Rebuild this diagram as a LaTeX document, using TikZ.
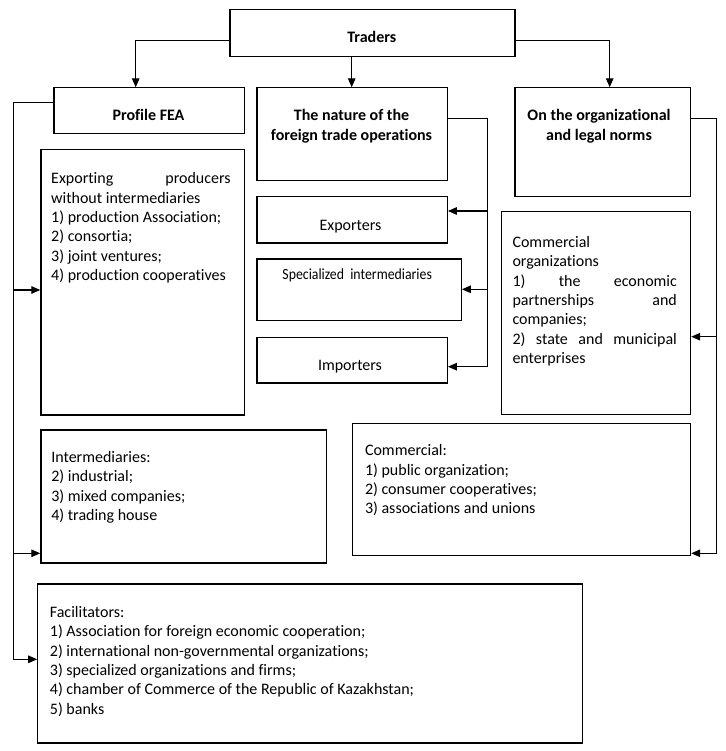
\documentclass[tikz,border=0pt]{standalone}
\usepackage{graphicx}
\usepackage{fontspec}
\setmainfont{Carlito}[Ligatures=NoCommon]
\usetikzlibrary{arrows.meta}
\begin{document}
\begin{tikzpicture}[x=1pt,y=-1pt,
  box/.style={draw, line width=1.2pt, inner sep=0pt, anchor=north west},
  txt/.style={inner sep=0pt, anchor=base west, font=\fontsize{16}{19.4}\selectfont},
  ttl/.style={inner sep=0pt, anchor=base, font=\fontsize{16}{19.5}\selectfont\bfseries},
  lbl/.style={inner sep=0pt, anchor=base, font=\fontsize{16}{19.5}\selectfont},
  arr/.style={line width=1.2pt, -{Triangle[length=9pt,width=7.5pt]}}]
\fill[white] (0,0) rectangle (725,751);
\useasboundingbox (0,0) rectangle (725,751);

% boxes
\node[box, minimum width=285pt, minimum height=46.7pt] (traders) at (229.3,9.3) {};
\node[box, minimum width=190.4pt, minimum height=46pt] (profile) at (53.3,87.3) {};
\node[box, minimum width=190.4pt, minimum height=93pt] (nature) at (256.3,87.3) {};
\node[box, minimum width=175.7pt, minimum height=108.7pt] (norms) at (514.3,87.3) {};
\node[box, minimum width=203.4pt, minimum height=265pt] (exporting) at (40.3,149.3) {};
\node[box, minimum width=190.4pt, minimum height=46.3pt] (exporters) at (256.3,196) {};
\node[box, minimum width=204.4pt, minimum height=61.7pt] (special) at (256.3,258.3) {};
\node[box, minimum width=190.4pt, minimum height=45.6pt] (importers) at (256.3,336.7) {};
\node[box, minimum width=189.3pt, minimum height=203pt] (corgs) at (500.7,211) {};
\node[box, minimum width=285.9pt, minimum height=133pt] (interm) at (40.3,429.3) {};
\node[box, minimum width=338.3pt, minimum height=132.5pt] (commercial) at (351.7,422.5) {};
\node[box, minimum width=545pt, minimum height=159pt] (facil) at (37.2,583.3) {};

% texts
\node[ttl] (traders-t) at (371.8,42.7) {Traders};
\node[ttl] (profile-t) at (148.5,120.3) {Profile FEA};
\node[ttl] (nature-t) at (351.5,120.7) {\parbox[t]{200pt}{\centering The nature of the\\ foreign trade operations}};
\node[ttl] (norms-t) at (599,120.7) {\parbox[t]{200pt}{\centering On the organizational\\ and legal norms}};
\node[lbl] (exporters-t) at (350.5,230) {Exporters};
\node[lbl, font=\fontsize{15.5}{18}\selectfont] (special-t) at (357.2,279.3) {\scalebox{0.89}[1]{Specialized\ \ intermediaries}};
\node[lbl] (importers-t) at (350,370.7) {Importers};

\node[txt] (exporting-t) at (51,183.7) {\parbox[t]{179.5pt}{\makebox[\linewidth][s]{Exporting producers}\\ without intermediaries\\ 1) production Association;\\ 2) consortia;\\ 3) joint ventures;\\ 4) production cooperatives}};

\node[txt] (corgs-t) at (512.3,247.3) {\parbox[t]{164.4pt}{Commercial\\ organizations\\ \makebox[\linewidth][s]{1) the economic}\\ \makebox[\linewidth][s]{partnerships and}\\ companies;\\ \makebox[\linewidth][s]{2) state and municipal}\\ enterprises}};

\node[txt] (commercial-t) at (364.8,455.7) {\parbox[t]{300pt}{Commercial:\\ 1) public organization;\\ 2) consumer cooperatives;\\ 3) associations and unions}};

\node[txt] (interm-t) at (51.1,462.3) {\parbox[t]{260pt}{Intermediaries:\\ 2) industrial;\\ 3) mixed companies;\\ 4) trading house}};

\node[txt] (facil-t) at (49.7,617.3) {\parbox[t]{520pt}{Facilitators:\\ 1) Association for foreign economic cooperation;\\ 2) international non-governmental organizations;\\ 3) specialized organizations and firms;\\ 4) chamber of Commerce of the Republic of Kazakhstan;\\ 5) banks}};

% connectors from Traders
\draw[arr] (traders.west |- 0,40.7) -| (135.7,0 |- profile.north);
\draw[arr] (351.7,0 |- traders.south) -- (351.7,0 |- nature.north);
\draw[arr] (traders.east |- 0,40.7) -| (609.7,0 |- norms.north);

% left bus
\coordinate (L) at (13.3,102.7);
\draw[arr] (profile.west |- L) -- (L) |- (facil.west |- 0,659.3);
\draw[arr] (L |- 0,290) -- (exporting.west |- 0,290);
\draw[arr] (L |- 0,553.3) -- (interm.west |- 0,553.3);

% middle bus
\coordinate (M) at (487.3,118.3);
\draw[arr] (nature.east |- M) -- (M) |- (importers.east |- 0,366.7);
\draw[arr] (M |- 0,211) -- (exporters.east |- 0,211);
\draw[arr] (M |- 0,289.3) -- (special.east |- 0,289.3);

% right bus
\coordinate (R) at (716.7,118.3);
\draw[arr] (norms.east |- R) -- (R) |- (commercial.east |- 0,553.3);
\draw[arr] (R |- 0,336.7) -- (corgs.east |- 0,336.7);
\end{tikzpicture}
\end{document}
